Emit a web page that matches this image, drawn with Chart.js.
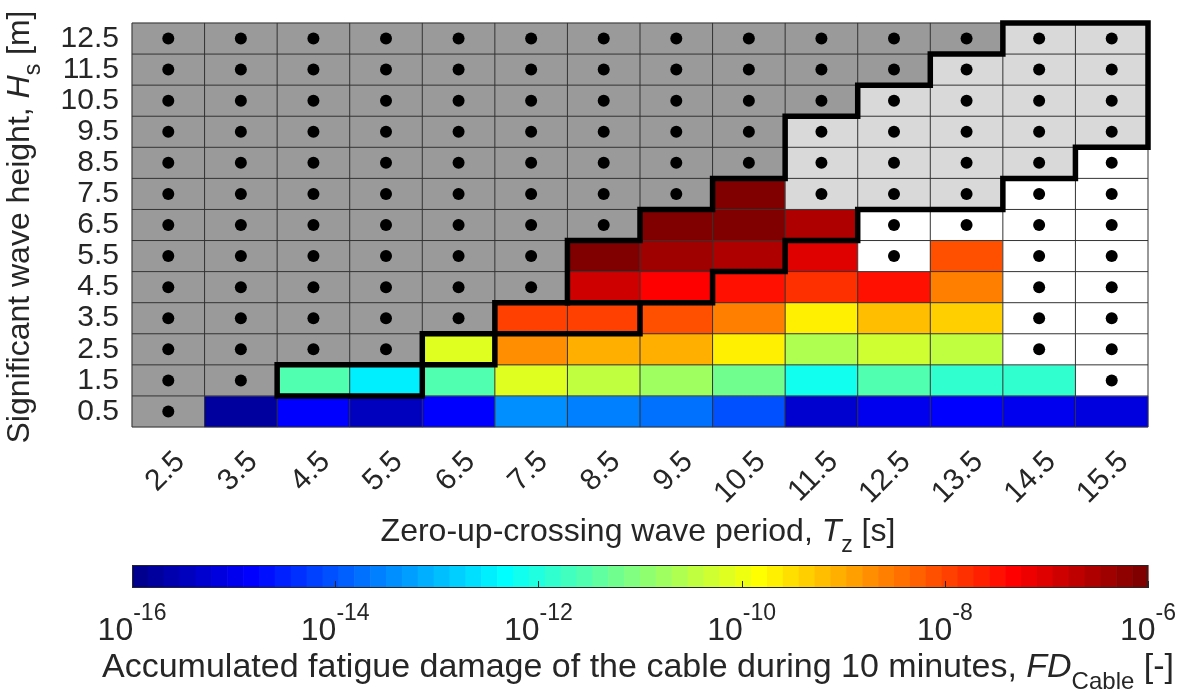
<!DOCTYPE html>
<html>
<head>
<meta charset="utf-8">
<script src="https://cdn.jsdelivr.net/npm/chart.js@4.4.0/dist/chart.umd.min.js"></script>
<style>
  html, body { margin: 0; padding: 0; background: #fff; }
  #wrap { position: relative; width: 1181px; height: 693px; overflow: hidden; }
  #wrap canvas { position: absolute; left: 0; top: 0; }
</style>
</head>
<body>
<div id="wrap">
  <canvas id="scatterCanvas" width="1181" height="693"></canvas>
  <canvas id="barCanvas" width="1181" height="693"></canvas>
</div>
<script>
// ---- data ---------------------------------------------------------------
// Bin centres of the scatter diagram
const tzCentres = [2.5, 3.5, 4.5, 5.5, 6.5, 7.5, 8.5, 9.5, 10.5, 11.5, 12.5, 13.5, 14.5, 15.5];
const hsCentres = [0.5, 1.5, 2.5, 3.5, 4.5, 5.5, 6.5, 7.5, 8.5, 9.5, 10.5, 11.5, 12.5];

// One string per Hs row (0.5 m first), one letter per Tz bin:
// C = coloured by damage, G = dark grey, L = light grey, W = white
const cellClass = [
  'GCCCCCCCCCCCCC', // 0.5
  'GGCCCCCCCCCCCW', // 1.5
  'GGGGCCCCCCCCWW', // 2.5
  'GGGGGCCCCCCCWW', // 3.5
  'GGGGGGCCCCCCWW', // 4.5
  'GGGGGGCCCCWCWW', // 5.5
  'GGGGGGGCCCWWWW', // 6.5
  'GGGGGGGGCLLLWW', // 7.5
  'GGGGGGGGGLLLLW', // 8.5
  'GGGGGGGGGLLLLL', // 9.5
  'GGGGGGGGGGLLLL', // 10.5
  'GGGGGGGGGGGLLL', // 11.5
  'GGGGGGGGGGGGLL'  // 12.5
];

// log10 of the accumulated fatigue damage per Hs row (null = not coloured)
const _ = null;
const logDamage = [
  [_, -15.8, -14.9, -15.4, -14.9, -13.45, -13.6, -13.75, -14.0, -15.3, -14.95, -14.85, -15.0, -15.1],
  [_, _, -11.5, -12.45, -11.6, -10.1, -10.5, -10.7, -11.3, -12.25, -11.6, -11.8, -11.8, _],
  [_, _, _, _, -10.15, -8.8, -9.0, -9.05, -9.75, -10.6, -10.3, -10.4, _, _],
  [_, _, _, _, _, -7.9, -7.95, -8.1, -8.6, -9.75, -9.25, -9.3, _, _],
  [_, _, _, _, _, _, -6.9, -7.35, -7.5, -7.8, -7.45, -8.6, _, _],
  [_, _, _, _, _, _, -6.1, -6.4, -6.6, -7.0, _, -8.1, _, _],
  [_, _, _, _, _, _, _, -6.1, -6.0, -6.55, _, _, _, _],
  [_, _, _, _, _, _, _, _, -6.0, _, _, _, _, _],
  [_, _, _, _, _, _, _, _, _, _, _, _, _, _],
  [_, _, _, _, _, _, _, _, _, _, _, _, _, _],
  [_, _, _, _, _, _, _, _, _, _, _, _, _, _],
  [_, _, _, _, _, _, _, _, _, _, _, _, _, _],
  [_, _, _, _, _, _, _, _, _, _, _, _, _, _]
];

// Colour bar limits and tick exponents
const cbMin = -16;
const cbMax = -6;
const cbTicks = [-16, -14, -12, -10, -8, -6];

// Thick outline along bin edges, [Tz, Hs] corners
const outline = [
  [4, 1], [4, 2], [6, 2], [6, 3], [7, 3], [7, 4], [8, 4], [8, 6], [9, 6], [9, 7],
  [10, 7], [10, 8], [11, 8], [11, 10], [12, 10], [12, 11], [13, 11], [13, 12],
  [14, 12], [14, 13], [16, 13], [16, 9], [15, 9], [15, 8], [14, 8], [14, 7],
  [12, 7], [12, 6], [11, 6], [11, 5], [10, 5], [10, 4], [9, 4], [9, 3], [7, 3],
  [7, 2], [6, 2], [6, 1], [4, 1]
];
const outlineExtra = [[8, 4], [9, 4]];

// ---- styling helpers -------------------------------------------------------
const FONT = '"Liberation Sans", Arial, Helvetica, sans-serif';
const TEXT = '#262626';
const TICK_PX = 30;
const LABEL_PX = 32;
const CB_LABEL_PX = 34;

// MATLAB-style jet colormap with 64 entries
function jetColour(i) {
  const k = i + 1;
  const u = j => (j < 1 || j > 47) ? 0 : (j <= 16 ? j / 16 : (j <= 31 ? 1 : (48 - j) / 16));
  const r = u(k - 24), g = u(k - 8), b = u(k + 8);
  return `rgb(${Math.round(r * 255)},${Math.round(g * 255)},${Math.round(b * 255)})`;
}
function colourIndex(v) {
  const idx = Math.floor((v - cbMin) / (cbMax - cbMin) * 64);
  return Math.max(0, Math.min(63, idx));
}

// Draws a run of text pieces (normal / italic / sub / superscript) centred on cx
function drawRich(ctx, parts, cx, baseY) {
  let total = 0;
  const widths = parts.map(p => { ctx.font = p.font; const w = ctx.measureText(p.text).width; total += w; return w; });
  let x = cx - total / 2;
  ctx.textAlign = 'left';
  ctx.textBaseline = 'alphabetic';
  parts.forEach((p, i) => {
    ctx.font = p.font;
    ctx.fillText(p.text, x, baseY + (p.dy || 0));
    x += widths[i];
  });
}

// ---- scatter diagram -------------------------------------------------------
const cellsPlugin = {
  id: 'cells',
  beforeDatasetsDraw(chart) {
    const { ctx, chartArea: a, scales: { x, y } } = chart;
    ctx.save();
    hsCentres.forEach((hs, r) => {
      tzCentres.forEach((tz, c) => {
        const cls = cellClass[r][c];
        let fill;
        if (cls === 'G') fill = '#9a9a9a';
        else if (cls === 'L') fill = '#d9d9d9';
        else if (cls === 'W') fill = '#ffffff';
        else fill = jetColour(colourIndex(logDamage[r][c]));
        const x0 = x.getPixelForValue(tz - 0.5), x1 = x.getPixelForValue(tz + 0.5);
        const y0 = y.getPixelForValue(hs + 0.5), y1 = y.getPixelForValue(hs - 0.5);
        ctx.fillStyle = fill;
        ctx.fillRect(x0 - 0.25, y0 - 0.25, x1 - x0 + 0.5, y1 - y0 + 0.5);
      });
    });
    // thin cell edges
    ctx.strokeStyle = '#333333';
    ctx.lineWidth = 1;
    ctx.beginPath();
    const tzEdges = tzCentres.map(t => t - 0.5).concat([tzCentres[tzCentres.length - 1] + 0.5]);
    const hsEdges = hsCentres.map(h => h - 0.5).concat([hsCentres[hsCentres.length - 1] + 0.5]);
    tzEdges.forEach(t => { const px = x.getPixelForValue(t); ctx.moveTo(px, a.top); ctx.lineTo(px, a.bottom); });
    hsEdges.forEach(h => { const py = y.getPixelForValue(h); ctx.moveTo(a.left, py); ctx.lineTo(a.right, py); });
    ctx.stroke();
    ctx.restore();
  },
  afterDraw(chart) {
    const { ctx, chartArea: a, scales: { x } } = chart;
    ctx.save();
    ctx.fillStyle = TEXT;
    // rotated Tz tick labels
    ctx.font = `${TICK_PX}px ${FONT}`;
    ctx.textAlign = 'right';
    ctx.textBaseline = 'middle';
    tzCentres.forEach(tz => {
      const px = x.getPixelForValue(tz);
      ctx.save();
      ctx.translate(px + 12, a.bottom + 30);
      ctx.rotate(-Math.PI / 4);
      ctx.fillText(tz.toFixed(1), 0, 0);
      ctx.restore();
    });
    // x axis title
    drawRich(ctx, [
      { text: 'Zero-up-crossing wave period, ', font: `${LABEL_PX}px ${FONT}` },
      { text: 'T', font: `italic ${LABEL_PX}px ${FONT}` },
      { text: 'z', font: `${Math.round(LABEL_PX * 0.72)}px ${FONT}`, dy: 11 },
      { text: ' [s]', font: `${LABEL_PX}px ${FONT}` }
    ], (a.left + a.right) / 2 - 2, 541);
    // y axis title
    ctx.save();
    ctx.translate(29, (a.top + a.bottom) / 2 + 2);
    ctx.rotate(-Math.PI / 2);
    drawRich(ctx, [
      { text: 'Significant wave height, ', font: `${LABEL_PX}px ${FONT}` },
      { text: 'H', font: `italic ${LABEL_PX}px ${FONT}` },
      { text: 's', font: `${Math.round(LABEL_PX * 0.72)}px ${FONT}`, dy: 11 },
      { text: ' [m]', font: `${LABEL_PX}px ${FONT}` }
    ], 0, 0);
    ctx.restore();
    ctx.restore();
  }
};

const dotPoints = [];
hsCentres.forEach((hs, r) => tzCentres.forEach((tz, c) => {
  if (cellClass[r][c] !== 'C') dotPoints.push({ x: tz, y: hs });
}));

new Chart(document.getElementById('scatterCanvas'), {
  type: 'scatter',
  data: {
    datasets: [
      {
        label: 'outline',
        data: outline.map(([tz, hs]) => ({ x: tz, y: hs })),
        showLine: true, borderColor: '#000', borderWidth: 5.5,
        borderJoinStyle: 'miter', borderCapStyle: 'square',
        pointRadius: 0, fill: false, tension: 0, clip: false
      },
      {
        label: 'outline extra',
        data: outlineExtra.map(([tz, hs]) => ({ x: tz, y: hs })),
        showLine: true, borderColor: '#000', borderWidth: 5.5,
        borderCapStyle: 'square', pointRadius: 0, fill: false, clip: false
      },
      {
        label: 'sea states',
        data: dotPoints,
        pointRadius: 6, pointHoverRadius: 6,
        backgroundColor: '#000', borderColor: '#000', borderWidth: 0
      }
    ]
  },
  options: {
    responsive: false,
    animation: false,
    devicePixelRatio: 1,
    events: [],
    layout: { padding: { left: 0, top: 8, right: 33, bottom: 0 } },
    plugins: { legend: { display: false }, tooltip: { enabled: false } },
    scales: {
      x: {
        type: 'linear', min: 2, max: 16,
        grid: { display: false }, border: { display: false },
        ticks: { display: false },
        afterFit(s) { s.height = 266; }
      },
      y: {
        type: 'linear', min: 0, max: 13,
        grid: { display: false }, border: { display: false },
        afterBuildTicks(s) { s.ticks = hsCentres.map(v => ({ value: v })); },
        ticks: {
          autoSkip: false, padding: 5, color: TEXT,
          font: { family: FONT, size: TICK_PX },
          callback: v => Number(v).toFixed(1)
        },
        afterFit(s) { s.width = 132; }
      }
    }
  },
  plugins: [cellsPlugin]
});

// ---- colour bar ------------------------------------------------------------
const colourBarPlugin = {
  id: 'colourBar',
  afterDraw(chart) {
    const { ctx, chartArea: a, scales: { x } } = chart;
    ctx.save();
    const step = (cbMax - cbMin) / 64;
    for (let i = 0; i < 64; i++) {
      const x0 = x.getPixelForValue(cbMin + i * step);
      const x1 = x.getPixelForValue(cbMin + (i + 1) * step);
      ctx.fillStyle = jetColour(i);
      ctx.fillRect(x0, a.top, x1 - x0 + 0.6, a.bottom - a.top);
    }
    ctx.strokeStyle = '#262626';
    ctx.lineWidth = 1;
    ctx.strokeRect(a.left + 0.5, a.top + 0.5, a.right - a.left - 1, a.bottom - a.top - 1);
    // tick marks
    ctx.beginPath();
    cbTicks.forEach(v => {
      const px = Math.round(x.getPixelForValue(v)) + 0.5;
      ctx.moveTo(px, a.bottom); ctx.lineTo(px, a.bottom - 7);
    });
    ctx.stroke();
    // tick labels 10^n
    ctx.fillStyle = TEXT;
    cbTicks.forEach(v => {
      const px = x.getPixelForValue(v);
      drawRich(ctx, [
        { text: '10', font: `32px ${FONT}` },
        { text: String(v), font: `23px ${FONT}`, dy: -20 }
      ], px, 640);
    });
    // colour bar title
    drawRich(ctx, [
      { text: 'Accumulated fatigue damage of the cable during 10 minutes, ', font: `${CB_LABEL_PX}px ${FONT}` },
      { text: 'FD', font: `italic ${CB_LABEL_PX}px ${FONT}` },
      { text: 'Cable', font: `${Math.round(CB_LABEL_PX * 0.72)}px ${FONT}`, dy: 12 },
      { text: ' [-]', font: `${CB_LABEL_PX}px ${FONT}` }
    ], 638, 677);
    ctx.restore();
  }
};

new Chart(document.getElementById('barCanvas'), {
  type: 'scatter',
  data: { datasets: [] },
  options: {
    responsive: false,
    animation: false,
    devicePixelRatio: 1,
    events: [],
    layout: { padding: { left: 132, top: 565, right: 33, bottom: 105 } },
    plugins: { legend: { display: false }, tooltip: { enabled: false } },
    scales: {
      x: {
        type: 'linear', min: cbMin, max: cbMax,
        grid: { display: false }, border: { display: false },
        ticks: { display: false },
        afterFit(s) { s.height = 0; }
      },
      y: { type: 'linear', min: 0, max: 1, display: false }
    }
  },
  plugins: [colourBarPlugin]
});
</script>
</body>
</html>
